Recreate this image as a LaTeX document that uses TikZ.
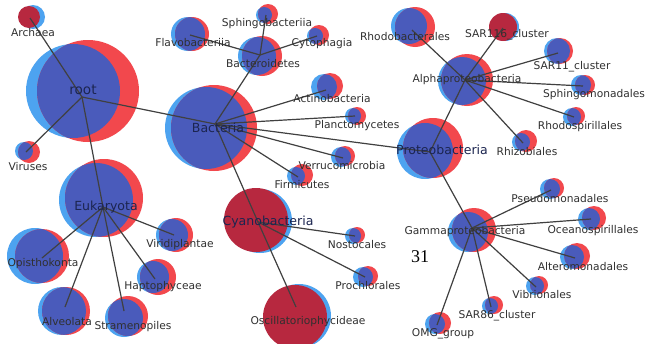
\documentclass[tikz,border=0pt]{standalone}
\usepackage{fontspec}
\setmainfont{DejaVu Sans}
\newfontfamily\numfont{Liberation Serif}
\definecolor{lblue}{HTML}{4DA3F0}
\definecolor{lred}{HTML}{F2484D}
\definecolor{dblue}{HTML}{4A5BBB}
\definecolor{crim}{HTML}{B7283F}
\definecolor{edgec}{HTML}{404040}
\definecolor{smallt}{HTML}{303030}
\definecolor{bigt}{HTML}{1C2550}
\newcommand\bub[9]{%
  \fill[lblue] (#2,#3) circle (#4);
  \fill[lred] (#5,#6) circle (#7);
  \begin{scope}\clip (#2,#3) circle (#4); \fill[dblue] (#5,#6) circle (#7);\end{scope}
  \coordinate (#1) at (#8,#9);}
\newcommand\cbub[9]{%
  \fill[lblue] (#2,#3) circle (#4);
  \fill[crim] (#5,#6) circle (#7);
  \coordinate (#1) at (#8,#9);}
\begin{document}
\begin{tikzpicture}[x=0.75pt,y=-0.75pt,
  edge/.style={draw=edgec,line width=0.9pt},
  small/.style={text=smallt,font=\fontsize{8}{9}\selectfont,inner sep=0pt},
  big/.style={text=bigt,font=\fontsize{9.4}{11}\selectfont,inner sep=0pt}]
\useasboundingbox[fill=white] (0,0) rectangle (645,343);
% bubbles
\bub{root}{73}{91}{47}{88}{91}{51}{82}{97}
\cbub{Archaea}{33}{17}{12}{29}{17}{11}{30}{18}
\bub{Viruses}{24}{151}{9}{29}{152}{11}{26}{152}
\bub{Eukaryota}{96}{200}{37}{104}{198}{39}{103}{207}
\bub{Opisthokonta}{35}{256}{28}{42}{256}{27}{42}{258}
\bub{Viridiplantae}{172}{235}{16}{176}{235}{17}{174}{235}
\bub{Haptophyceae}{153}{277}{16}{158}{277}{18}{155}{279}
\bub{Alveolata}{62}{311}{24}{66}{311}{24}{65}{307}
\bub{Stramenopiles}{124}{318}{19}{128}{316}{20}{124}{311}
\bub{Bacteria}{206}{128}{41}{214}{128}{43}{215}{124}
\bub{Flavobacteriia}{188}{34}{17}{192}{34}{17}{190}{35}
\bub{Bacteroidetes}{257}{56}{19}{262}{56}{20}{260}{55}
\bub{Sphingobacteriia}{264}{15}{8}{268}{14}{10}{266}{15}
\bub{Cytophagia}{315}{36}{8}{319}{35}{10}{317}{36}
\bub{Actinobacteria}{324}{87}{13}{330}{86}{13}{326}{90}
\bub{Planctomycetes}{353}{116}{8}{357}{116}{9}{355}{116}
\bub{Verrucomicrobia}{341}{157}{10}{345}{156}{10}{343}{158}
\bub{Firmicutes}{296}{176}{9}{302}{175}{11}{298}{177}
\cbub{Cyanobacteria}{260}{221}{32}{256}{220}{32}{258}{222}
\bub{Nostocales}{353}{236}{8}{357}{235}{8}{355}{236}
\bub{Prochlorales}{363}{277}{10}{368}{276}{10}{365}{277}
\cbub{Oscillatoriophycideae}{299}{316}{32}{295}{317}{32}{296}{307}
\bub{Proteobacteria}{425}{151}{28}{433}{148}{30}{430}{152}
\bub{Alphaproteobacteria}{462}{81}{24}{467}{80}{26}{465}{80}
\bub{Rhodobacterales}{409}{26}{18}{415}{27}{20}{412}{30}
\cbub{SAR116}{505}{27}{14}{503}{27}{14}{503}{28}
\bub{SAR11}{557}{51}{13}{560}{51}{13}{558}{53}
\bub{Sphingomonadales}{581}{85}{10}{585}{85}{10}{583}{86}
\bub{Rhodospirillales}{572}{117}{9}{576}{116}{9}{574}{117}
\bub{Rhizobiales}{521}{142}{9}{526}{141}{11}{523}{143}
\bub{Gammaproteobacteria}{468}{232}{20}{474}{230}{22}{472}{228}
\bub{Pseudomonadales}{550}{189}{10}{554}{188}{10}{551}{190}
\bub{Oceanospirillales}{589}{219}{11}{594}{218}{12}{591}{219}
\bub{Alteromonadales}{572}{257}{12}{577}{256}{13}{575}{258}
\bub{Vibrionales}{535}{286}{9}{539}{285}{9}{536}{287}
\bub{SAR86}{490}{306}{8}{494}{305}{9}{491}{307}
\bub{OMG}{435}{324}{10}{440}{323}{11}{437}{325}
% edges
\foreach \a/\b in {root/Archaea,root/Viruses,root/Eukaryota,root/Bacteria,
  Eukaryota/Opisthokonta,Eukaryota/Viridiplantae,Eukaryota/Haptophyceae,Eukaryota/Alveolata,Eukaryota/Stramenopiles,
  Bacteria/Bacteroidetes,Bacteria/Actinobacteria,Bacteria/Planctomycetes,Bacteria/Verrucomicrobia,Bacteria/Firmicutes,Bacteria/Cyanobacteria,Bacteria/Proteobacteria,
  Bacteroidetes/Flavobacteriia,Bacteroidetes/Sphingobacteriia,Bacteroidetes/Cytophagia,
  Cyanobacteria/Nostocales,Cyanobacteria/Prochlorales,Cyanobacteria/Oscillatoriophycideae,
  Proteobacteria/Alphaproteobacteria,Proteobacteria/Gammaproteobacteria,
  Alphaproteobacteria/Rhodobacterales,Alphaproteobacteria/SAR116,Alphaproteobacteria/SAR11,Alphaproteobacteria/Sphingomonadales,Alphaproteobacteria/Rhodospirillales,Alphaproteobacteria/Rhizobiales,
  Gammaproteobacteria/Pseudomonadales,Gammaproteobacteria/Oceanospirillales,Gammaproteobacteria/Alteromonadales,Gammaproteobacteria/Vibrionales,Gammaproteobacteria/SAR86,Gammaproteobacteria/OMG}
  \draw[edge] (\a) -- (\b);
% labels
\node[big,font=\fontsize{10.2}{12}\selectfont] (root-l) at (83,90) {root};
\node[small] (Archaea-l) at (33,33) {Archaea};
\node[small] (Viruses-l) at (28,167) {Viruses};
\node[big] (Eukaryota-l) at (106,207) {Eukaryota};
\node[small] (Opisthokonta-l) at (43,264) {Opisthokonta};
\node[small] (Viridiplantae-l) at (180,245) {Viridiplantae};
\node[small] (Haptophyceae-l) at (163,287) {Haptophyceae};
\node[small] (Alveolata-l) at (67,322) {Alveolata};
\node[small] (Stramenopiles-l) at (133,327) {Stramenopiles};
\node[big] (Bacteria-l) at (218,128) {Bacteria};
\node[small] (Flavobacteriia-l) at (193,43) {Flavobacteriia};
\node[small] (Bacteroidetes-l) at (263,64) {Bacteroidetes};
\node[small] (Sphingobacteriia-l) at (267,24) {Sphingobacteriia};
\node[small] (Cytophagia-l) at (322,44) {Cytophagia};
\node[small] (Actinobacteria-l) at (332,99) {Actinobacteria};
\node[small] (Planctomycetes-l) at (357,126) {Planctomycetes};
\node[small] (Verrucomicrobia-l) at (342,166) {Verrucomicrobia};
\node[small] (Firmicutes-l) at (302,185) {Firmicutes};
\node[big] (Cyanobacteria-l) at (268,222) {Cyanobacteria};
\node[small] (Nostocales-l) at (357,245) {Nostocales};
\node[small] (Prochlorales-l) at (368,286) {Prochlorales};
\node[small] (Oscillatoriophycideae-l) at (308,322) {Oscillatoriophycideae};
\node[big] (Proteobacteria-l) at (442,150) {Proteobacteria};
\node[small] (Alphaproteobacteria-l) at (467,80) {Alphaproteobacteria};
\node[small] (Rhodobacterales-l) at (405,37) {Rhodobacterales};
\node[small] (SAR116-l) at (507,35) {SAR116\_cluster};
\node[small] (SAR11-l) at (572,67) {SAR11\_cluster};
\node[small] (Sphingomonadales-l) at (594,95) {Sphingomonadales};
\node[small] (Rhodospirillales-l) at (580,127) {Rhodospirillales};
\node[small] (Rhizobiales-l) at (527,152) {Rhizobiales};
\node[small] (Gammaproteobacteria-l) at (465,232) {Gammaproteobacteria};
\node[small] (Pseudomonadales-l) at (560,199) {Pseudomonadales};
\node[small] (Oceanospirillales-l) at (593,231) {Oceanospirillales};
\node[small] (Alteromonadales-l) at (583,267) {Alteromonadales};
\node[small] (Vibrionales-l) at (542,295) {Vibrionales};
\node[small] (SAR86-l) at (497,316) {SAR86\_cluster};
\node[small] (OMG-l) at (443,334) {OMG\_group};
\node[text=black,font=\numfont\fontsize{13.5}{15}\selectfont,inner sep=0pt] (num) at (420,257) {31};
\end{tikzpicture}
\end{document}
